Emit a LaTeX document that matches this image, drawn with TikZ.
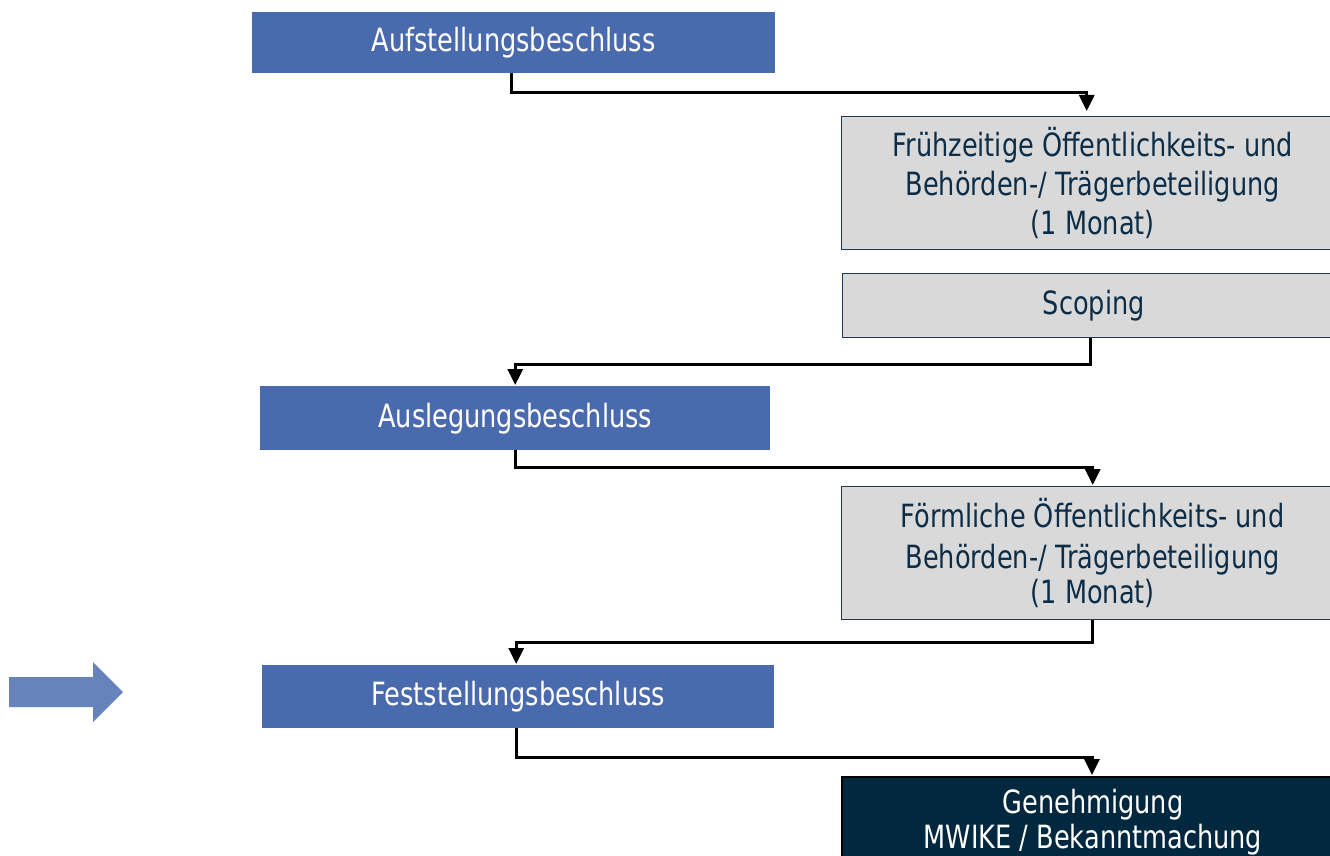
\documentclass[tikz,border=0pt]{standalone}
\usepackage{fontspec}
\setmainfont{DejaVu Sans}[FakeStretch=0.8]
\usetikzlibrary{arrows.meta}
\definecolor{bblue}{HTML}{4A6AAE}
\definecolor{gfill}{HTML}{D9D9D9}
\definecolor{gline}{HTML}{1F3A52}
\definecolor{navytext}{HTML}{0C2D48}
\definecolor{dfill}{HTML}{02283F}
\definecolor{arrowblue}{HTML}{6683BC}
\begin{document}
\begin{tikzpicture}[x=1pt,y=-1pt,
  boxbase/.style={inner sep=0pt, anchor=north west, align=center, font=\fontsize{32}{39}\selectfont},
  bluebox/.style={boxbase, fill=bblue, text=white},
  graybox/.style={boxbase, fill=gfill, draw=gline, line width=1.4pt, text=navytext},
  darkbox/.style={boxbase, fill=dfill, draw=black, line width=2pt, text=white},
  conn/.style={line width=3pt, -{Triangle[width=15pt,length=16pt]}}]
\useasboundingbox (0,0) rectangle (1330,856);
\clip (0,0) rectangle (1330,856);
\fill[white] (0,0) rectangle (1330,856);

\node[bluebox, minimum width=523pt, minimum height=61pt] (a) at (252,12) {Aufstellungsbeschluss};
\node[graybox, minimum width=502pt, minimum height=133pt] (b) at (841,116) {Frühzeitige Öffentlichkeits- und\\Behörden-/ Trägerbeteiligung\\(1 Monat)};
\node[graybox, minimum width=502pt, minimum height=64pt] (c) at (842,273) {Scoping};
\node[bluebox, minimum width=510pt, minimum height=64pt] (d) at (260,386) {Auslegungsbeschluss};
\node[graybox, minimum width=502pt, minimum height=133pt] (e) at (841,486) {Förmliche Öffentlichkeits- und\\[2pt]Behörden-/ Trägerbeteiligung\\[-4pt](1 Monat)};
\node[bluebox, minimum width=512pt, minimum height=63pt] (f) at (262,665) {Feststellungsbeschluss};
\node[darkbox, minimum width=502pt, minimum height=90pt, font=\fontsize{32}{35}\selectfont] (g) at (841,776) {Genehmigung\\MWIKE / Bekanntmachung};

\draw[conn] ([xshift=-2.5pt]a.south) -- ++(0,19) -| ([xshift=-6pt,yshift=5pt]b.north);
\draw[conn] ([xshift=-3pt]c.south) -- ++(0,26) -| ([yshift=1pt]d.north);
\draw[conn] (d.south) -- ++(0,17) -| ([yshift=1pt]e.north);
\draw[conn] (e.south) -- ++(0,22) -| ([xshift=-2pt,yshift=1pt]f.north);
\draw[conn] ([xshift=-2pt]f.south) -- ++(0,29) -| ([xshift=-1pt,yshift=1pt]g.north);

\fill[arrowblue] (9,677) -- (93,677) -- (93,662) -- (123,692) -- (93,722) -- (93,707) -- (9,707) -- cycle;
\end{tikzpicture}
\end{document}
